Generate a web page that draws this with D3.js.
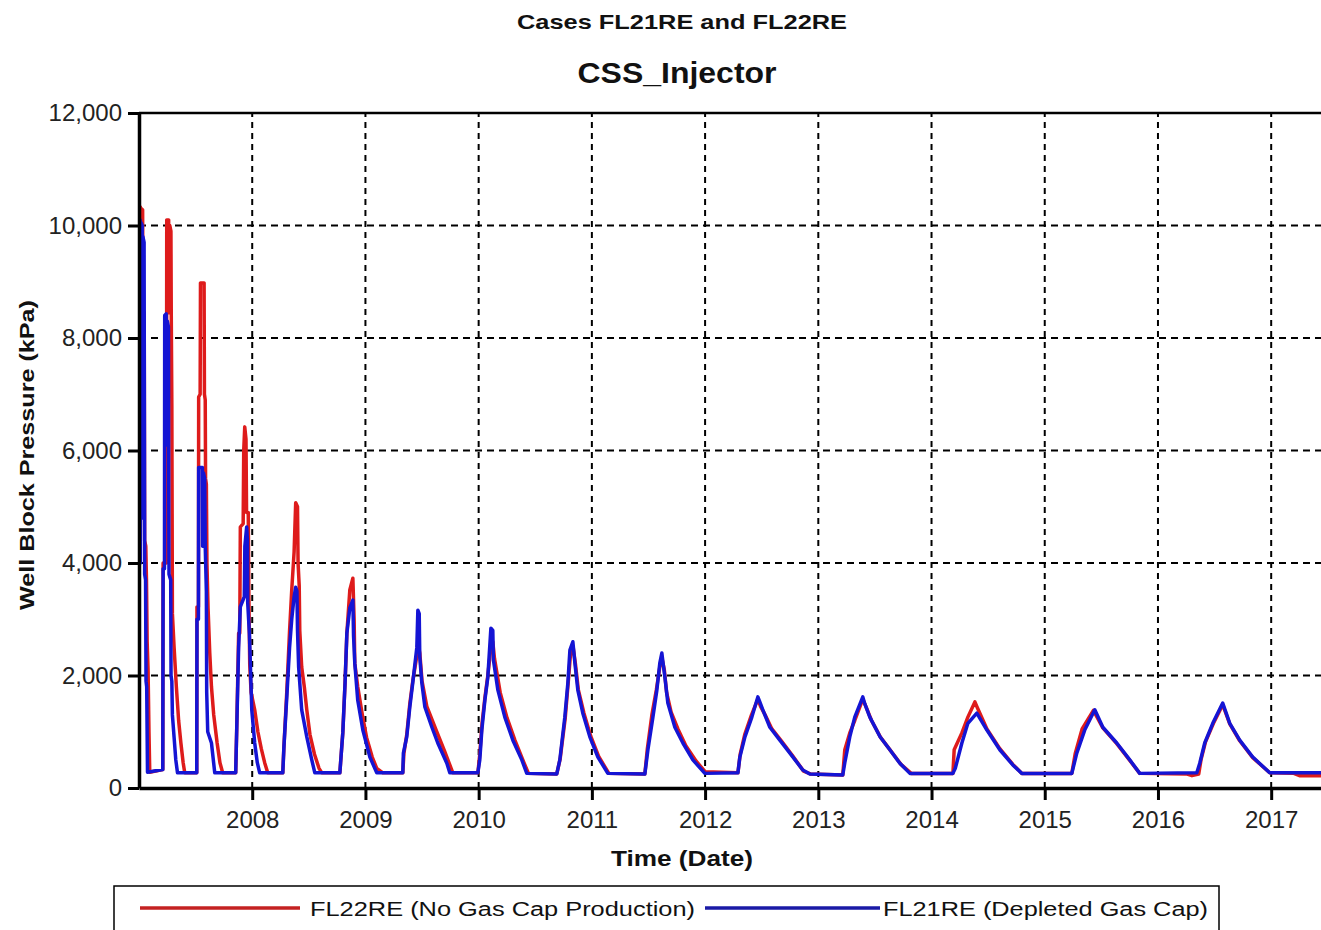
<!DOCTYPE html>
<html>
<head>
<meta charset="utf-8">
<script src="https://cdn.jsdelivr.net/npm/d3@7"></script>
<style>
  body { margin: 0; background: #fff; }
  svg { display: block; font-family: "Liberation Sans", Arial, sans-serif; }
</style>
</head>
<body>
<div class="viz"></div>
<script>
// axis ticks
var yearTicks = [2008, 2009, 2010, 2011, 2012, 2013, 2014, 2015, 2016, 2017]
var pressureTicks = [0, 2000, 4000, 6000, 8000, 10000, 12000]

// FL22RE (No Gas Cap Production): [decimal year, well block pressure kPa]
var fl22re = [
    [2007.000, 280], [2007.003, 10330], [2007.012, 10330], [2007.014, 8500], [2007.020, 10300], [2007.032, 10280],
    [2007.035, 8500], [2007.046, 8450], [2007.050, 4400], [2007.060, 4300], [2007.066, 3700], [2007.072, 2600],
    [2007.080, 2100], [2007.088, 1000], [2007.095, 280], [2007.210, 330],
    [2007.213, 4000], [2007.242, 4000], [2007.245, 10100], [2007.262, 10100], [2007.264, 8450], [2007.272, 10000],
    [2007.282, 9900], [2007.285, 8400], [2007.290, 6800], [2007.295, 3100], [2007.310, 2500], [2007.330, 1800],
    [2007.350, 1200], [2007.370, 800], [2007.390, 450], [2007.404, 270], [2007.510, 270],
    [2007.512, 3220], [2007.525, 3220], [2007.527, 6950], [2007.540, 7000], [2007.543, 8980], [2007.575, 8980],
    [2007.578, 7000], [2007.585, 6900], [2007.588, 5500], [2007.595, 5400], [2007.600, 4000], [2007.610, 3200],
    [2007.625, 2400], [2007.640, 1800], [2007.660, 1300], [2007.690, 800], [2007.715, 450], [2007.739, 270],
    [2007.854, 270],
    [2007.863, 1030], [2007.880, 2750], [2007.890, 2750], [2007.895, 4640], [2007.920, 4700], [2007.925, 6000],
    [2007.934, 6420], [2007.945, 6200], [2007.950, 4900], [2007.965, 4900], [2007.970, 3500], [2007.978, 2200],
    [2007.990, 1700], [2008.022, 1390], [2008.050, 1000], [2008.080, 700], [2008.110, 450], [2008.137, 270],
    [2008.270, 270],
    [2008.280, 730], [2008.305, 1700], [2008.330, 2800], [2008.349, 3520], [2008.370, 4200], [2008.384, 5070],
    [2008.400, 5000], [2008.405, 4000], [2008.415, 3600], [2008.420, 2800], [2008.437, 2150], [2008.460, 1800],
    [2008.482, 1390], [2008.510, 950], [2008.550, 600], [2008.590, 350], [2008.615, 270], [2008.774, 270],
    [2008.800, 980], [2008.820, 1870], [2008.836, 2750], [2008.862, 3520], [2008.889, 3730], [2008.900, 3000],
    [2008.906, 2220], [2008.932, 1800], [2008.977, 1250], [2009.010, 900], [2009.060, 550], [2009.100, 350],
    [2009.154, 270], [2009.330, 270],
    [2009.340, 620], [2009.365, 950], [2009.392, 1500], [2009.418, 1900], [2009.450, 2300], [2009.463, 2580],
    [2009.480, 2400], [2009.500, 1900], [2009.542, 1450], [2009.630, 1000], [2009.700, 650], [2009.772, 270],
    [2009.993, 270],
    [2010.010, 600], [2010.030, 1150], [2010.055, 1600], [2010.081, 2000], [2010.108, 2500], [2010.125, 2600],
    [2010.140, 2300], [2010.190, 1700], [2010.250, 1250], [2010.320, 850], [2010.400, 450], [2010.440, 260],
    [2010.690, 250],
    [2010.720, 520], [2010.765, 1250], [2010.790, 1850], [2010.810, 2350], [2010.835, 2500], [2010.855, 2200],
    [2010.880, 1750], [2010.930, 1330], [2010.990, 920], [2011.060, 560], [2011.150, 260], [2011.468, 250],
    [2011.490, 700], [2011.530, 1300], [2011.570, 1750], [2011.600, 2150], [2011.620, 2300], [2011.640, 2100],
    [2011.660, 1700], [2011.700, 1350], [2011.760, 1050], [2011.830, 750], [2011.920, 480], [2012.000, 290],
    [2012.290, 270],
    [2012.310, 600], [2012.350, 950], [2012.410, 1300], [2012.466, 1580], [2012.490, 1450], [2012.530, 1300],
    [2012.590, 1050], [2012.680, 820], [2012.770, 580], [2012.870, 300], [2012.930, 250], [2013.216, 230],
    [2013.234, 680], [2013.278, 980], [2013.322, 1200], [2013.393, 1580], [2013.420, 1450], [2013.470, 1200],
    [2013.550, 900], [2013.640, 660], [2013.730, 420], [2013.820, 260], [2014.189, 260],
    [2014.200, 680], [2014.268, 980], [2014.321, 1260], [2014.383, 1530], [2014.400, 1450], [2014.489, 1050],
    [2014.603, 700], [2014.718, 420], [2014.797, 260], [2015.239, 260],
    [2015.270, 620], [2015.330, 1050], [2015.430, 1380], [2015.513, 1070], [2015.636, 790], [2015.751, 490],
    [2015.839, 260], [2016.250, 250], [2016.300, 220], [2016.360, 250],
    [2016.380, 500], [2016.420, 820], [2016.490, 1150], [2016.572, 1480], [2016.634, 1140], [2016.722, 840],
    [2016.837, 540], [2016.987, 270], [2017.200, 260], [2017.250, 220], [2017.440, 220]
]

// FL21RE (Depleted Gas Cap)
var fl21re = [
    [2007.000, 3700], [2007.003, 10100], [2007.010, 10100], [2007.012, 4000], [2007.018, 10050], [2007.028, 10000],
    [2007.030, 4800], [2007.035, 9800], [2007.045, 9700], [2007.050, 3800], [2007.058, 3700], [2007.062, 1900],
    [2007.068, 1800], [2007.075, 280], [2007.210, 330],
    [2007.213, 3900], [2007.225, 3900], [2007.227, 8400], [2007.240, 8430], [2007.242, 6100], [2007.250, 8300],
    [2007.260, 8200], [2007.262, 6000], [2007.265, 3800], [2007.280, 3700], [2007.283, 2000], [2007.290, 1900],
    [2007.295, 1300], [2007.310, 900], [2007.325, 500], [2007.340, 270], [2007.510, 270],
    [2007.512, 3000], [2007.525, 3000], [2007.527, 5700], [2007.560, 5700], [2007.562, 4300], [2007.570, 5600],
    [2007.580, 5500], [2007.585, 4300], [2007.595, 3500], [2007.598, 1700], [2007.607, 1000], [2007.640, 800],
    [2007.669, 270], [2007.854, 270],
    [2007.863, 1030], [2007.880, 2500], [2007.895, 3220], [2007.930, 3400], [2007.935, 4300], [2007.951, 4640],
    [2007.958, 4400], [2007.960, 3300], [2007.975, 2750], [2007.990, 1800], [2007.996, 1390], [2008.022, 800],
    [2008.045, 450], [2008.066, 270], [2008.270, 270],
    [2008.280, 730], [2008.305, 1600], [2008.330, 2500], [2008.349, 3000], [2008.370, 3400], [2008.384, 3570],
    [2008.395, 3500], [2008.400, 2800], [2008.410, 2150], [2008.437, 1390], [2008.482, 910], [2008.526, 500],
    [2008.553, 270], [2008.774, 270],
    [2008.800, 980], [2008.820, 1870], [2008.836, 2750], [2008.862, 3200], [2008.889, 3340], [2008.895, 2700],
    [2008.906, 2220], [2008.932, 1560], [2008.977, 1030], [2009.039, 550], [2009.100, 270], [2009.330, 270],
    [2009.335, 620], [2009.365, 910], [2009.392, 1440], [2009.418, 1870], [2009.454, 2500], [2009.463, 3160],
    [2009.475, 3100], [2009.480, 2330], [2009.498, 1870], [2009.525, 1440], [2009.587, 1080], [2009.639, 800],
    [2009.719, 440], [2009.745, 270], [2009.993, 270],
    [2010.010, 500], [2010.028, 1030], [2010.055, 1560], [2010.081, 1970], [2010.108, 2840], [2010.125, 2800],
    [2010.130, 2280], [2010.170, 1740], [2010.231, 1260], [2010.302, 850], [2010.381, 500], [2010.425, 260],
    [2010.690, 250],
    [2010.717, 500], [2010.761, 1260], [2010.788, 1870], [2010.806, 2450], [2010.832, 2600], [2010.850, 2220],
    [2010.876, 1740], [2010.920, 1330], [2010.982, 910], [2011.053, 550], [2011.141, 260], [2011.468, 250],
    [2011.495, 680], [2011.539, 1260], [2011.574, 1740], [2011.600, 2220], [2011.618, 2400], [2011.630, 2200],
    [2011.645, 1970], [2011.671, 1510], [2011.733, 1080], [2011.804, 800], [2011.892, 500], [2011.998, 260],
    [2012.290, 270],
    [2012.307, 550], [2012.352, 910], [2012.413, 1260], [2012.466, 1620], [2012.480, 1550], [2012.510, 1390],
    [2012.572, 1080], [2012.660, 850], [2012.749, 620], [2012.863, 320], [2012.925, 250], [2013.216, 230],
    [2013.234, 450], [2013.278, 910], [2013.322, 1260], [2013.393, 1620], [2013.410, 1500], [2013.455, 1260],
    [2013.545, 910], [2013.632, 680], [2013.720, 440], [2013.809, 260], [2014.189, 260],
    [2014.210, 350], [2014.268, 800], [2014.321, 1150], [2014.400, 1330], [2014.489, 1030], [2014.603, 680],
    [2014.718, 410], [2014.797, 260], [2015.239, 260],
    [2015.283, 620], [2015.353, 1030], [2015.442, 1390], [2015.513, 1080], [2015.636, 800], [2015.751, 500],
    [2015.839, 260], [2016.343, 270],
    [2016.369, 440], [2016.413, 800], [2016.484, 1150], [2016.572, 1510], [2016.634, 1150], [2016.722, 850],
    [2016.837, 550], [2016.987, 270], [2017.440, 270]
]

var seriesNames = ["FL22RE (No Gas Cap Production)", "FL21RE (Depleted Gas Cap)"]
var seriesColors = ["#de1b1b", "#1414d4"]
var legendColors = ["#c42222", "#1a1aa6"]

function chart() {
    var width = 1321,
        height = 930,
        margin = ({ top: 113, right: 0, bottom: 142, left: 139 })

    const svg = d3.select(".viz")
        .append("svg")
        .attr("width", width)
        .attr("height", height)

    var x = d3.scaleLinear()
        .domain([2007, 2017.44])
        .range([margin.left, width - margin.right])

    var y = d3.scaleLinear()
        .domain([0, 12000])
        .range([height - margin.bottom, margin.top])

    // titles
    svg.append("text")
        .attr("x", 682).attr("y", 29)
        .attr("text-anchor", "middle")
        .attr("font-size", 21).attr("font-weight", "bold").attr("fill", "#111")
        .attr("textLength", 330).attr("lengthAdjust", "spacingAndGlyphs")
        .text("Cases FL21RE and FL22RE")

    svg.append("text")
        .attr("x", 677).attr("y", 83)
        .attr("text-anchor", "middle")
        .attr("font-size", 29).attr("font-weight", "bold").attr("fill", "#111")
        .attr("textLength", 199).attr("lengthAdjust", "spacingAndGlyphs")
        .text("CSS_Injector")

    // grid
    svg.append("g")
        .selectAll("line")
        .data(pressureTicks.filter(d => d > 0 && d < 12000))
        .join("line")
        .attr("x1", x(2007)).attr("x2", width)
        .attr("y1", d => y(d)).attr("y2", d => y(d))
        .attr("stroke", "#000").attr("stroke-width", 2)
        .attr("stroke-dasharray", "7,5")

    svg.append("g")
        .selectAll("line")
        .data(yearTicks)
        .join("line")
        .attr("x1", d => x(d)).attr("x2", d => x(d))
        .attr("y1", y(0)).attr("y2", y(12000))
        .attr("stroke", "#000").attr("stroke-width", 2)
        .attr("stroke-dasharray", "6,5")

    // series
    svg.append("clipPath").attr("id", "plot")
        .append("rect")
        .attr("x", x(2007)).attr("y", y(12000))
        .attr("width", width - x(2007)).attr("height", y(0) - y(12000))

    var line = d3.line()
        .x(d => x(d[0]))
        .y(d => y(d[1]))

    svg.append("g")
        .attr("clip-path", "url(#plot)")
        .selectAll("path")
        .data([fl22re, fl21re])
        .join("path")
        .attr("d", line)
        .attr("fill", "none")
        .attr("stroke", (d, i) => seriesColors[i])
        .attr("stroke-width", 3.5)
        .attr("stroke-linejoin", "round")

    // top frame
    svg.append("line")
        .attr("x1", x(2007)).attr("x2", width)
        .attr("y1", y(12000)).attr("y2", y(12000))
        .attr("stroke", "#000").attr("stroke-width", 2.5)

    // axes
    var yAxis = svg.append("g")
        .attr("transform", `translate(${x(2007)},0)`)
        .call(d3.axisLeft(y).tickValues(pressureTicks).tickFormat(d3.format(","))
            .tickSize(11).tickSizeOuter(0).tickPadding(6))

    var xAxis = svg.append("g")
        .attr("transform", `translate(0,${y(0)})`)
        .call(d3.axisBottom(x).tickValues(yearTicks).tickFormat(d3.format("d"))
            .tickSize(12).tickSizeOuter(0).tickPadding(11))

    svg.selectAll(".domain").attr("stroke-width", 3.5)
    svg.selectAll(".tick line").attr("stroke-width", 3)
    svg.selectAll(".tick text")
        .attr("font-size", 24)
        .attr("font-family", "'Liberation Sans', Arial, sans-serif")
        .attr("fill", "#222")

    // axis titles
    svg.append("text")
        .attr("transform", "translate(34,455) rotate(-90)")
        .attr("text-anchor", "middle")
        .attr("font-size", 21).attr("font-weight", "bold").attr("fill", "#111")
        .attr("textLength", 310).attr("lengthAdjust", "spacingAndGlyphs")
        .text("Well Block Pressure (kPa)")

    svg.append("text")
        .attr("x", 682).attr("y", 866)
        .attr("text-anchor", "middle")
        .attr("font-size", 22).attr("font-weight", "bold").attr("fill", "#111")
        .attr("textLength", 142).attr("lengthAdjust", "spacingAndGlyphs")
        .text("Time (Date)")

    // legend
    var legend = svg.append("g")
    legend.append("rect")
        .attr("x", 114).attr("y", 886)
        .attr("width", 1105).attr("height", 70)
        .attr("fill", "none").attr("stroke", "#000").attr("stroke-width", 1.5)

    var items = [
        { x1: 140, x2: 300, tx: 310, tw: 385 },
        { x1: 705, x2: 880, tx: 883, tw: 325 }
    ]
    items.forEach(function (it, i) {
        legend.append("line")
            .attr("x1", it.x1).attr("x2", it.x2)
            .attr("y1", 908).attr("y2", 908)
            .attr("stroke", legendColors[i]).attr("stroke-width", 3.5)
        legend.append("text")
            .attr("x", it.tx).attr("y", 916)
            .attr("font-size", 20).attr("fill", "#111")
            .attr("textLength", it.tw).attr("lengthAdjust", "spacingAndGlyphs")
            .text(seriesNames[i])
    })
}

chart()
</script>
</body>
</html>
